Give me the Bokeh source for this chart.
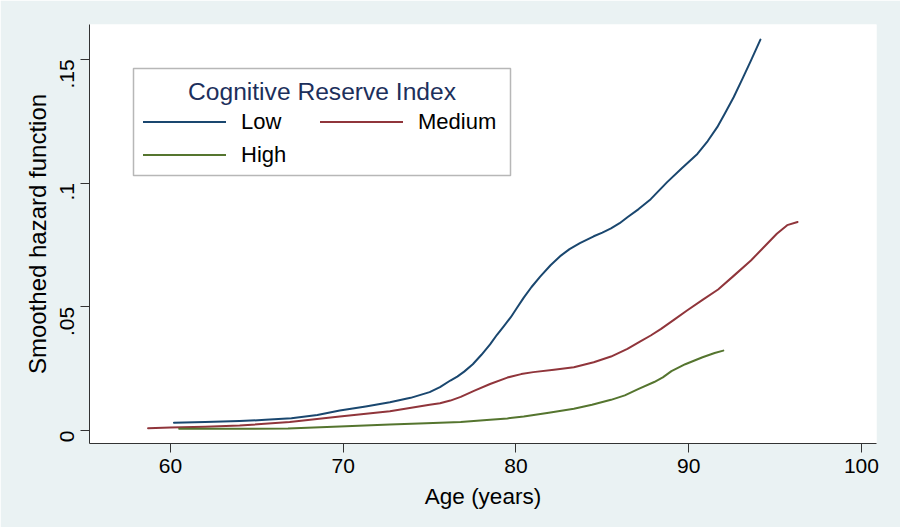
import math
from bokeh.plotting import figure
from bokeh.models import (Range1d, FixedTicker, Legend, LegendItem, Label, BoxAnnotation)
from bokeh.embed import file_html
from bokeh.resources import INLINE

# ---- data ----
low_age = [60.2, 62.0, 64.0, 65.5, 67.0, 68.5, 69.8, 71.3, 72.7, 73.9, 75.0, 75.6, 76.2,
           76.6, 77.0, 77.5, 78.0, 78.5, 78.9, 79.3, 79.7, 80.05, 80.45, 80.9, 81.4, 82.0,
           82.6, 83.1, 83.7, 84.5, 85.0, 85.5, 86.0, 86.45, 87.1, 87.8, 88.75, 89.6, 90.5,
           91.1, 91.65, 92.1, 92.6, 93.1, 93.6, 94.15]
low_haz = [0.0031, 0.0034, 0.0038, 0.0043, 0.0050, 0.0063, 0.0081, 0.0097, 0.0114, 0.0132,
           0.0155, 0.0175, 0.0202, 0.0218, 0.0238, 0.0268, 0.0306, 0.0348, 0.0387, 0.0422,
           0.0458, 0.0495, 0.0537, 0.0580, 0.0622, 0.0668, 0.0707, 0.0733, 0.0757, 0.0785,
           0.0800, 0.0817, 0.0838, 0.0862, 0.0895, 0.0935, 0.1004, 0.1060, 0.1118, 0.1170,
           0.1226, 0.1282, 0.1347, 0.1420, 0.1495, 0.1580]

med_age = [58.7, 60.0, 62.0, 64.0, 66.9, 69.8, 72.7, 75.0, 75.6, 76.2, 76.8, 77.6, 78.5,
           79.5, 80.3, 81.0, 82.2, 83.35, 84.5, 85.5, 86.45, 87.2, 87.8, 88.4, 89.2, 89.9,
           90.8, 91.7, 92.6, 93.6, 94.4, 95.1, 95.7, 96.3]
med_haz = [0.0009, 0.0012, 0.0015, 0.0020, 0.0034, 0.0057, 0.0078, 0.0104, 0.0110, 0.0121,
           0.0136, 0.0161, 0.0188, 0.0214, 0.0228, 0.0236, 0.0246, 0.0256, 0.0276, 0.0299,
           0.0330, 0.0360, 0.0384, 0.0411, 0.0450, 0.0485, 0.0528, 0.0570, 0.0625, 0.0687,
           0.0745, 0.0795, 0.0830, 0.0843]

high_age = [60.5, 64.0, 66.8, 69.8, 72.7, 74.8, 76.8, 78.5, 79.5, 80.45, 81.9, 83.35, 84.4,
            85.5, 86.3, 87.1, 88.0, 88.5, 89.0, 89.8, 90.8, 91.5, 92.0]
high_haz = [0.0007, 0.0007, 0.0008, 0.0016, 0.0024, 0.0029, 0.0034, 0.0043, 0.0049, 0.0057,
            0.0072, 0.0088, 0.0104, 0.0124, 0.0142, 0.0168, 0.0196, 0.0215, 0.0240, 0.0268,
            0.0296, 0.0313, 0.0323]

series_names = ["Low", "Medium", "High"]
legend_title = "Cognitive Reserve Index"
x_ticks = [60, 70, 80, 90, 100]
y_ticks = [0, 0.05, 0.1, 0.15]
y_tick_labels = ["0", ".05", ".1", ".15"]
x_title = "Age (years)"
y_title = "Smoothed hazard function"

# ---- styling ----
BG = "#EAF2F3"
FONT = "Liberation Sans"
AXIS_COL = "#333333"
colors = ["#1a476f", "#90353b", "#55752f"]

p = figure(width=900, height=527, output_backend="svg", toolbar_location=None,
           x_range=Range1d(55.31, 100.87), y_range=Range1d(-0.00525, 0.1641),
           min_border_left=89, min_border_right=24, min_border_top=24, min_border_bottom=84)
p.background_fill_color = "white"
p.border_fill_color = BG
p.outline_line_color = None
p.xgrid.visible = False
p.ygrid.visible = False

renderers = {}
for name, ages, haz, col in [("Low", low_age, low_haz, colors[0]),
                             ("Medium", med_age, med_haz, colors[1]),
                             ("High", high_age, high_haz, colors[2])]:
    renderers[name] = p.line(ages, haz, line_color=col, line_width=2,
                             line_join="round", line_cap="round")

# x axis
xa = p.xaxis[0]
xa.ticker = FixedTicker(ticks=x_ticks)
xa.minor_tick_line_color = None
xa.major_tick_in = 0
xa.major_tick_out = 9
xa.axis_line_color = AXIS_COL
xa.major_tick_line_color = AXIS_COL
xa.major_label_text_font = FONT
xa.major_label_text_font_size = "21px"
xa.major_label_text_color = "black"
xa.major_label_standoff = 6
xa.axis_label = x_title
xa.axis_label_text_font = FONT
xa.axis_label_text_font_size = "22.5px"
xa.axis_label_text_font_style = "normal"
xa.axis_label_text_color = "black"
xa.axis_label_standoff = 8

# y axis
ya = p.yaxis[0]
ya.ticker = FixedTicker(ticks=y_ticks)
ya.major_label_overrides = {t: s for t, s in zip(y_ticks, y_tick_labels)}
ya.minor_tick_line_color = None
ya.major_tick_in = 0
ya.major_tick_out = 9
ya.axis_line_color = AXIS_COL
ya.major_tick_line_color = AXIS_COL
ya.major_label_orientation = math.pi / 2
ya.major_label_text_font = FONT
ya.major_label_text_font_size = "21px"
ya.major_label_text_color = "black"
ya.major_label_standoff = 13
ya.axis_label = y_title
ya.axis_label_text_font = FONT
ya.axis_label_text_font_size = "24px"
ya.axis_label_text_font_style = "normal"
ya.axis_label_text_color = "black"
ya.axis_label_standoff = 0

# legend box + title
box = BoxAnnotation(left=44, right=421, top=375, bottom=268,
                    left_units="screen", right_units="screen",
                    top_units="screen", bottom_units="screen",
                    fill_color="white", fill_alpha=1.0,
                    line_color="#111111", line_width=1.5, level="overlay")
p.add_layout(box)

title_lbl = Label(x=232.5, y=352, x_units="screen", y_units="screen", text=legend_title,
                  text_align="center", text_baseline="alphabetic",
                  text_font=FONT, text_font_size="24.6px", text_color="#1c2f5c",
                  level="overlay")
p.add_layout(title_lbl)

# vertical fill with 2 columns: column 1 = Low, High ; column 2 = Medium
legend_order = ["Low", "High", "Medium"]
legend = Legend(items=[LegendItem(label=n, renderers=[renderers[n]]) for n in legend_order],
                location=(54, 272), ncols=2, orientation="vertical",
                glyph_width=83, glyph_height=33, label_height=33, label_width=79,
                label_standoff=15, spacing=0, padding=0, margin=0,
                label_text_font=FONT, label_text_font_size="22px", label_text_color="black",
                border_line_alpha=0, background_fill_alpha=0)
p.add_layout(legend, "center")

open("out.html", "w").write(file_html(p, INLINE))
